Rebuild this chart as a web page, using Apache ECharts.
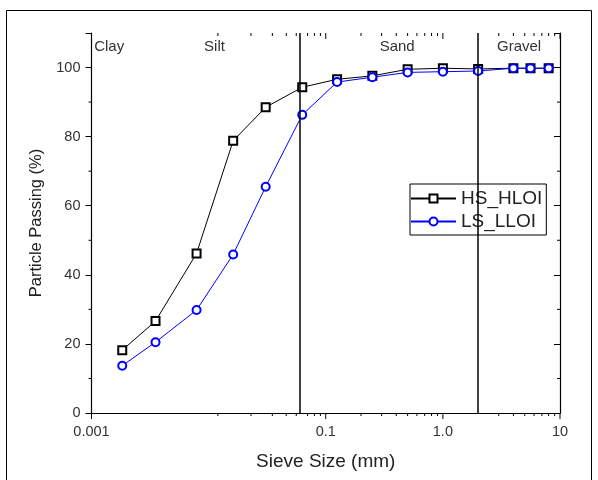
<!DOCTYPE html>
<html>
<head>
<meta charset="utf-8">
<script src="https://cdn.jsdelivr.net/npm/echarts@6/dist/echarts.min.js"></script>
<style>
html,body{margin:0;padding:0;background:#fff;}
#chart{width:598px;height:480px;}
</style>
</head>
<body>
<div id="chart"></div>
<script>
// Sieve sizes (mm)
const sieveSizes = [0.00183, 0.00352, 0.00789, 0.0162, 0.0307, 0.063, 0.125, 0.25, 0.5, 1, 2, 4, 5.6, 8];
// Percent passing
const hsHloi = [18.2, 26.6, 46.2, 78.8, 88.5, 94.3, 96.6, 97.6, 99.5, 99.8, 99.6, 99.8, 99.8, 99.8];
const lsLloi = [13.7, 20.5, 29.8, 45.9, 65.5, 86.3, 95.8, 97.2, 98.6, 98.8, 99.0, 99.8, 99.8, 99.8];
const seriesNames = ['HS_HLOI', 'LS_LLOI'];
// Soil class boundaries (mm) and class names
const boundaries = [0.002, 0.063, 2];
const classNames = ['Clay', 'Silt', 'Sand', 'Gravel'];
const classEdges = [0.001, 0.002, 0.063, 2, 10];
// Tick values
const xLabels = {'-3': '0.001', '-1': '0.1', '0': '1.0', '1': '10'};
const xMajorTicks = [0.001, 0.1, 1, 10];
const xMinorTicks = [0.012, 0.023, 0.035, 0.046, 0.056, 0.07, 0.08, 0.09,
  0.2, 0.3, 0.4, 0.5, 0.6, 0.7, 0.8, 0.9, 3, 4, 5, 6, 7, 8, 9];
const yMinorTicks = [10, 30, 50, 70, 90];

const X_MIN = 0.001, X_MAX = 10, Y_MIN = 0, Y_MAX = 110;

const tickData = []
  .concat(xMajorTicks.map(v => [v, 0, 0]))
  .concat(xMinorTicks.map(v => [v, 0, 1]))
  .concat(yMinorTicks.map(v => [X_MIN, v, 2]));

const chart = echarts.init(document.getElementById('chart'), null, {renderer: 'canvas'});
const font = 'Liberation Sans, Arial, sans-serif';

const markAreaData = classNames.map((n, i) => {
  const start = {xAxis: classEdges[i], name: n};
  if (n === 'Sand') start.label = {offset: [7, 0]};
  return [start, {xAxis: classEdges[i + 1]}];
});

const option = {
  backgroundColor: '#fff',
  animation: false,
  graphic: [{
    type: 'rect', silent: true,
    shape: {x: 6.5, y: 10.5, width: 585, height: 480},
    style: {fill: 'none', stroke: '#000', lineWidth: 1}
  }],
  grid: {left: 91.5, right: 38, top: 33, bottom: 67, containLabel: false},
  legend: {
    data: seriesNames,
    orient: 'vertical',
    left: 410, top: 184,
    padding: [5, 4, 4, 0],
    itemWidth: 45, itemHeight: 10, itemGap: 4,
    borderColor: '#000', borderWidth: 1,
    backgroundColor: '#fff',
    textStyle: {fontFamily: font, fontSize: 19, color: '#222'}
  },
  xAxis: [{
    type: 'log', logBase: 10, min: X_MIN, max: X_MAX,
    position: 'bottom',
    name: 'Sieve Size (mm)', nameLocation: 'middle', nameGap: 39,
    nameTextStyle: {fontFamily: font, fontSize: 19, color: '#222'},
    axisLine: {show: true, lineStyle: {color: '#000', width: 1.2}},
    axisTick: {show: false},
    splitLine: {show: false},
    axisLabel: {
      margin: 11.5, fontFamily: font, fontSize: 14.5, color: '#333',
      formatter: v => { const k = String(Math.round(Math.log10(v))); return xLabels[k] || ''; }
    }
  }, {
    type: 'log', logBase: 10, min: X_MIN, max: X_MAX,
    position: 'top',
    axisLine: {show: true, lineStyle: {color: '#000', width: 1.2}},
    axisTick: {show: false},
    axisLabel: {show: false},
    splitLine: {show: false}
  }],
  yAxis: [{
    type: 'value', min: Y_MIN, max: Y_MAX, interval: 20,
    position: 'left',
    name: 'Particle Passing (%)', nameLocation: 'middle', nameGap: 44,
    nameTextStyle: {fontFamily: font, fontSize: 16.5, color: '#222'},
    axisLine: {show: true, lineStyle: {color: '#000', width: 1.2}},
    axisTick: {show: true, inside: false, length: 6, lineStyle: {color: '#000'}},
    splitLine: {show: false},
    axisLabel: {
      margin: 11, fontFamily: font, fontSize: 14.5, color: '#333',
      formatter: v => (v % 20 === 0 && v <= 100) ? String(v) : ''
    }
  }, {
    type: 'value', min: Y_MIN, max: Y_MAX, interval: 20,
    position: 'right',
    axisLine: {show: true, lineStyle: {color: '#000', width: 1.2}},
    axisTick: {show: true, inside: true, length: 6, lineStyle: {color: '#000'}},
    axisLabel: {show: false},
    splitLine: {show: false}
  }],
  series: [{
    name: seriesNames[0],
    type: 'line',
    data: sieveSizes.map((x, i) => [x, hsHloi[i]]),
    symbol: 'emptyRect', symbolSize: 8,
    lineStyle: {color: '#000', width: 1},
    itemStyle: {color: '#000', borderWidth: 1},
    z: 3,
    markLine: {
      silent: true, symbol: ['none', 'none'],
      label: {show: false},
      lineStyle: {color: '#000', width: 1.5, type: 'solid'},
      data: boundaries.map(b => ({xAxis: b}))
    },
    markArea: {
      silent: true,
      itemStyle: {color: 'rgba(0,0,0,0)'},
      label: {show: true, position: 'insideTop', distance: 6, fontFamily: font, fontSize: 15, color: '#333'},
      data: markAreaData
    }
  }, {
    name: seriesNames[1],
    type: 'line',
    data: sieveSizes.map((x, i) => [x, lsLloi[i]]),
    symbol: 'emptyCircle', symbolSize: 8,
    lineStyle: {color: '#0000ff', width: 1},
    itemStyle: {color: '#0000ff', borderWidth: 1},
    z: 4
  }, {
    name: 'ticks',
    type: 'custom',
    silent: true,
    clip: false,
    z: 10,
    encode: {x: 0, y: 1},
    data: tickData,
    renderItem: function (params, api) {
      const kind = api.value(2);
      const style = {stroke: '#000', lineWidth: 1};
      if (kind === 0 || kind === 1) {
        const len = kind === 0 ? 6 : 3;
        const x = api.value(0);
        const b = api.coord([x, Y_MIN]);
        const t = api.coord([x, Y_MAX]);
        return {type: 'group', children: [
          {type: 'line', shape: {x1: b[0], y1: b[1], x2: b[0], y2: b[1] + len}, style: style},
          {type: 'line', shape: {x1: t[0], y1: t[1], x2: t[0], y2: t[1] + len}, style: style}
        ]};
      }
      const y = api.value(1);
      const l = api.coord([X_MIN, y]);
      const r = api.coord([X_MAX, y]);
      return {type: 'group', children: [
        {type: 'line', shape: {x1: l[0] - 3, y1: l[1], x2: l[0], y2: l[1]}, style: style},
        {type: 'line', shape: {x1: r[0] - 3, y1: r[1], x2: r[0], y2: r[1]}, style: style}
      ]};
    }
  }]
};
chart.setOption(option);
</script>
</body>
</html>
